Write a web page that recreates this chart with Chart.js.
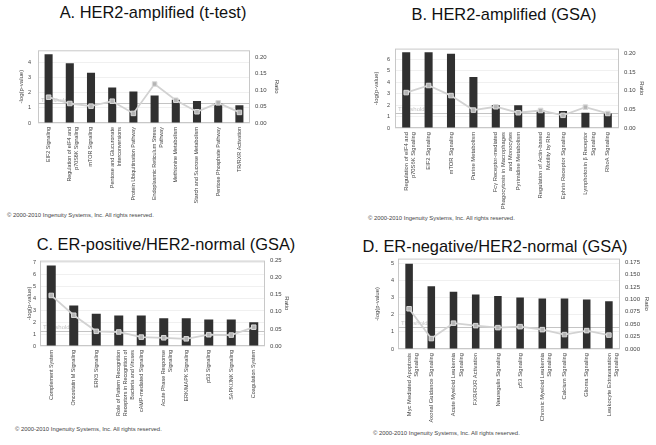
<!DOCTYPE html>
<html>
<head>
<meta charset="utf-8">
<script src="https://cdn.jsdelivr.net/npm/chart.js@4.4.1/dist/chart.umd.min.js"></script>
<style>
    body { margin: 0; background: #fff; width: 656px; height: 445px; position: relative; overflow: hidden;
           font-family: "Liberation Sans", Arial, sans-serif; }
    .title { position: absolute; font-size: 16.4px; color: #111; white-space: nowrap; transform: translateX(-50%); }
    .copy { position: absolute; font-size: 5.9px; color: #444; white-space: nowrap; }
    .panel { position: absolute; }
</style>
</head>
<body>
<div class="title" style="left:153px;top:3px">A. HER2-amplified (t-test)</div>
<div class="title" style="left:504px;top:5px">B. HER2-amplified (GSA)</div>
<div class="title" style="left:166px;top:235px">C. ER-positive/HER2-normal (GSA)</div>
<div class="title" style="left:495px;top:237px">D. ER-negative/HER2-normal (GSA)</div>

<div class="copy" style="left:7px;top:212px">© 2000-2010 Ingenuity Systems, Inc. All rights reserved.</div>
<div class="copy" style="left:368px;top:215px">© 2000-2010 Ingenuity Systems, Inc. All rights reserved.</div>
<div class="copy" style="left:15px;top:426px">© 2000-2010 Ingenuity Systems, Inc. All rights reserved.</div>
<div class="copy" style="left:373px;top:430px">© 2000-2010 Ingenuity Systems, Inc. All rights reserved.</div>

<script>
// -log(p-value) threshold for p = 0.05
const threshold = 1.3;

// Panel A: HER2-amplified (t-test)
const labelsA = [
    'EIF2 Signaling',
    ['Regulation of eIF4 and', 'p70S6K Signaling'],
    'mTOR Signaling',
    ['Pentose and Glucuronate', 'Interconversions'],
    'Protein Ubiquitination Pathway',
    ['Endoplasmic Reticulum Stress', 'Pathway'],
    'Methionine Metabolism',
    'Starch and Sucrose Metabolism',
    'Pentose Phosphate Pathway',
    'TR/RXR Activation'
];
const logpA = [4.58, 3.97, 3.35, 2.36, 2.1, 1.83, 1.55, 1.46, 1.33, 1.18];
const ratioA = [0.078, 0.059, 0.051, 0.066, 0.029, 0.118, 0.069, 0.034, 0.061, 0.032];

// Panel B: HER2-amplified (GSA)
const labelsB = [
    ['Regulation of eIF4 and', 'p70S6K Signaling'],
    'EIF2 Signaling',
    'mTOR Signaling',
    'Purine Metabolism',
    ['Fcγ Receptor-mediated', 'Phagocytosis in Macrophages', 'and Monocytes'],
    'Pyrimidine Metabolism',
    ['Regulation of Actin-based', 'Motility by Rho'],
    'Ephrin Receptor Signaling',
    ['Lymphotoxin β Receptor', 'Signaling'],
    'RhoA Signaling'
];
const logpB = [6.64, 6.64, 6.49, 4.47, 2.0, 2.0, 1.5, 1.48, 1.33, 1.28];
const ratioB = [0.095, 0.114, 0.087, 0.048, 0.057, 0.041, 0.047, 0.034, 0.056, 0.039];

// Panel C: ER-positive/HER2-normal (GSA)
const labelsC = [
    'Complement System',
    'Oncostatin M Signaling',
    'ERK5 Signaling',
    ['Role of Pattern Recognition', 'Receptors in Recognition of', 'Bacteria and Viruses'],
    'cAMP-mediated Signaling',
    ['Acute Phase Response', 'Signaling'],
    'ERK/MAPK Signaling',
    'p53 Signaling',
    'SAPK/JNK Signaling',
    'Coagulation System'
];
const logpC = [6.78, 3.42, 2.72, 2.58, 2.58, 2.35, 2.35, 2.24, 2.24, 2.0];
const ratioC = [0.148, 0.09, 0.043, 0.041, 0.026, 0.024, 0.021, 0.033, 0.032, 0.055];

// Panel D: ER-negative/HER2-normal (GSA)
const labelsD = [
    ['Myc Mediated Apoptosis', 'Signaling'],
    'Axonal Guidance Signaling',
    ['Acute Myeloid Leukemia', 'Signaling'],
    'FXR/RXR Activation',
    'Neuregulin Signaling',
    'p53 Signaling',
    ['Chronic Myeloid Leukemia', 'Signaling'],
    'Calcium Signaling',
    'Glioma Signaling',
    ['Leukocyte Extravasation', 'Signaling']
];
const logpD = [5.0, 3.68, 3.35, 3.2, 3.1, 3.02, 2.96, 2.96, 2.9, 2.8];
const ratioD = [0.081, 0.021, 0.052, 0.047, 0.043, 0.045, 0.039, 0.029, 0.037, 0.028];

const FONT = '"Liberation Sans", Arial, sans-serif';
const colors = {
    bar: '#303030',
    line: '#d2d2d2',
    marker: '#b4b4b4',
    markerBorder: '#dadada',
    frame: '#c8c8c8',
    grid: '#f0f0f0',
    text: '#444444',
    threshold: '#c4c4c4'
};

// Frame around plot area + threshold line
const framePlugin = {
    id: 'frame',
    beforeDatasetsDraw(chart) {
        const { ctx, chartArea: a } = chart;
        const y = chart.scales.y.getPixelForValue(threshold);
        ctx.save();
        ctx.strokeStyle = colors.frame;
        ctx.lineWidth = 1;
        ctx.strokeRect(a.left + 0.5, a.top + 0.5, a.right - a.left - 1, a.bottom - a.top - 1);
        ctx.strokeStyle = colors.threshold;
        ctx.beginPath();
        ctx.moveTo(a.left, Math.round(y) + 0.5);
        ctx.lineTo(a.right, Math.round(y) + 0.5);
        ctx.stroke();
        ctx.fillStyle = colors.threshold;
        ctx.font = '6px ' + FONT;
        ctx.textBaseline = 'bottom';
        ctx.fillText('Threshold', a.left + 3, y - 0.5);
        ctx.restore();
    }
};

function makePanel(box, plot, labels, logp, ratio, yMax, rMax, rStep, rDigits, barPct, tickPad, labelSize) {
    const div = document.createElement('div');
    div.className = 'panel';
    div.style.left = box.left + 'px';
    div.style.top = box.top + 'px';
    const canvas = document.createElement('canvas');
    canvas.width = box.w;
    canvas.height = box.h;
    div.appendChild(canvas);
    document.body.appendChild(div);

    const leftW = plot.l - box.left;
    const rightW = box.left + box.w - plot.r;
    const bottomH = box.top + box.h - plot.b;
    const tickFont = { family: FONT, size: 5.5 };

    new Chart(canvas, {
        data: {
            labels: labels,
            datasets: [
                {
                    type: 'line',
                    data: ratio,
                    yAxisID: 'y1',
                    order: 0,
                    borderColor: colors.line,
                    borderWidth: 1.8,
                    pointStyle: 'rect',
                    pointRadius: 3.2,
                    pointBackgroundColor: colors.marker,
                    pointBorderColor: colors.markerBorder,
                    pointBorderWidth: 1,
                    tension: 0
                },
                {
                    type: 'bar',
                    data: logp,
                    yAxisID: 'y',
                    order: 1,
                    backgroundColor: colors.bar,
                    barPercentage: barPct,
                    categoryPercentage: 1
                }
            ]
        },
        options: {
            responsive: false,
            animation: false,
            layout: { padding: { top: plot.t - box.top, left: 0, right: 0, bottom: 0 } },
            plugins: { legend: { display: false }, tooltip: { enabled: false } },
            scales: {
                x: {
                    grid: { display: false, drawTicks: false },
                    border: { display: false },
                    ticks: {
                        autoSkip: false,
                        maxRotation: 90,
                        minRotation: 90,
                        padding: 4,
                        color: colors.text,
                        font: { family: FONT, size: labelSize, lineHeight: 1.3 }
                    },
                    afterFit(s) { s.height = bottomH; }
                },
                y: {
                    position: 'left',
                    min: 0,
                    max: yMax,
                    grid: { color: colors.grid, drawTicks: false },
                    border: { display: false },
                    ticks: {
                        stepSize: 1,
                        includeBounds: false,
                        padding: tickPad,
                        color: colors.text,
                        font: tickFont,
                        callback: v => Number.isInteger(v) ? v : ''
                    },
                    title: {
                        display: true,
                        text: '-log(p-value)',
                        color: colors.text,
                        font: { family: FONT, size: 6 },
                        padding: 0
                    },
                    afterFit(s) { s.width = leftW; }
                },
                y1: {
                    position: 'right',
                    min: 0,
                    max: rMax,
                    grid: { display: false, drawTicks: false },
                    border: { display: false },
                    ticks: {
                        stepSize: rStep,
                        includeBounds: false,
                        padding: 5,
                        color: colors.text,
                        font: { family: FONT, size: 6 },
                        callback: v => {
                            const k = v / rStep;
                            return Math.abs(k - Math.round(k)) < 1e-6 ? v.toFixed(rDigits) : '';
                        }
                    },
                    title: {
                        display: true,
                        text: 'Ratio',
                        color: colors.text,
                        font: { family: FONT, size: 6 },
                        padding: 0
                    },
                    afterFit(s) { s.width = rightW; }
                }
            }
        },
        plugins: [framePlugin]
    });
}

makePanel({ left: 18, top: 40, w: 262, h: 180 }, { l: 38, r: 250, t: 48, b: 123 },
    labelsA, logpA, ratioA, 4.84, 0.22, 0.05, 2, 0.38, 7, 5.4);
makePanel({ left: 373, top: 40, w: 272, h: 175 }, { l: 395, r: 619, t: 48, b: 128 },
    labelsB, logpB, ratioB, 6.95, 0.213, 0.05, 2, 0.36, 5, 5.8);
makePanel({ left: 26, top: 252, w: 264, h: 172 }, { l: 40, r: 265, t: 260, b: 346 },
    labelsC, logpC, ratioC, 7.2, 0.25, 0.05, 2, 0.4, 4, 5.4);
makePanel({ left: 374, top: 250, w: 276, h: 176 }, { l: 398, r: 620, t: 258, b: 349 },
    labelsD, logpD, ratioD, 5.3, 0.182, 0.025, 3, 0.34, 4, 5.8);
</script>
</body>
</html>
